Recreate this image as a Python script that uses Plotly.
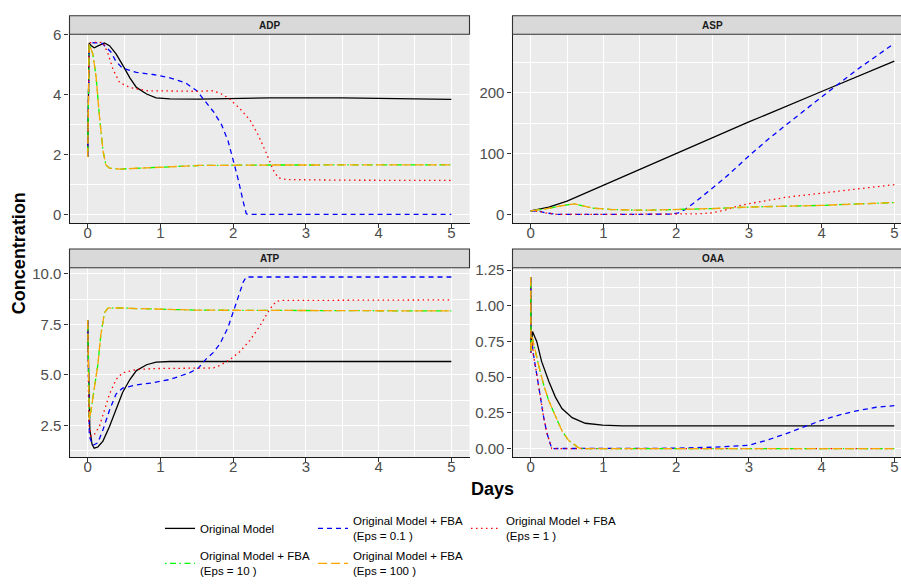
import plotly.graph_objects as go

# ---- series names ----
names = [
    "Original Model",
    "Original Model + FBA<br>(Eps = 0.1 )",
    "Original Model + FBA<br>(Eps = 1 )",
    "Original Model + FBA<br>(Eps = 10 )",
    "Original Model + FBA<br>(Eps = 100 )",
]
colors = ["#000000", "#0000FF", "#FF0000", "#00FF00", "#FFA500"]
dashes = ["solid", "5px,4px", "1.5px,3.5px", "1.5px,3.5px,6px,3.5px", "9px,4px"]
legend_of = ["legend", "legend2", "legend2", "legend3", "legend3"]

# ---- ADP ----
adp_t_orig = [0, 0.02, 0.05, 0.09, 0.15, 0.23, 0.3, 0.39, 0.48, 0.58, 0.67, 0.81, 0.94, 1.13, 1.54, 2.5, 3.5, 4.5, 5]
adp_orig = [1.91, 5.70, 5.62, 5.55, 5.62, 5.71, 5.62, 5.35, 4.98, 4.55, 4.23, 4.01, 3.88, 3.85, 3.84, 3.88, 3.88, 3.86, 3.83]
adp_t_e01 = [0, 0.02, 0.1, 0.2, 0.25, 0.32, 0.39, 0.48, 0.67, 0.9, 1.13, 1.34, 1.5, 1.63, 1.73, 1.84, 1.93, 2.0, 2.07, 2.14, 2.18, 2.2, 5]
adp_e01 = [1.91, 5.70, 5.72, 5.70, 5.57, 5.41, 5.09, 4.87, 4.73, 4.66, 4.55, 4.39, 4.12, 3.74, 3.42, 2.99, 2.45, 1.81, 1.16, 0.41, 0.03, 0.0, 0.0]
adp_t_e1 = [0, 0.02, 0.1, 0.21, 0.28, 0.35, 0.44, 0.58, 0.81, 1.13, 1.52, 1.73, 1.84, 1.95, 2.09, 2.23, 2.34, 2.46, 2.55, 2.62, 2.73, 3.5, 5]
adp_e1 = [1.91, 5.72, 5.73, 5.73, 5.35, 4.82, 4.39, 4.23, 4.12, 4.10, 4.10, 4.12, 4.01, 3.85, 3.53, 3.15, 2.67, 2.02, 1.48, 1.22, 1.16, 1.14, 1.13]
adp_t_e10 = [0, 0.02, 0.07, 0.115, 0.16, 0.21, 0.25, 0.3, 0.44, 0.67, 1.13, 1.54, 2.5, 5]
adp_e10 = [1.91, 5.68, 5.35, 4.60, 3.31, 2.13, 1.65, 1.54, 1.51, 1.54, 1.59, 1.63, 1.645, 1.65]
adp_t_e100 = [0, 0.02, 0.07, 0.115, 0.16, 0.21, 0.25, 0.3, 0.44, 0.67, 1.13, 1.54, 2.5, 5]
adp_e100 = [1.91, 5.68, 5.35, 4.60, 3.31, 2.13, 1.65, 1.54, 1.51, 1.54, 1.59, 1.63, 1.645, 1.65]

# ---- ASP ----
asp_t_orig = [0, 0.25, 0.5, 0.75, 1, 1.5, 2, 3, 4, 5]
asp_orig = [6, 12, 22, 35, 48, 75, 101, 152, 202, 252]
asp_t_e01 = [0, 0.13, 0.2, 0.3, 0.38, 1.0, 1.94, 2.03, 2.12, 2.3, 2.49, 2.67, 3.0, 3.25, 3.5, 3.75, 4.0, 4.25, 4.5, 4.75, 5]
asp_e01 = [6, 5, 2.6, 0.8, 0, 0, 0.5, 2.6, 8, 24, 42, 60, 96, 122, 146, 170, 193, 216, 239, 260, 281]
asp_t_e1 = [0, 0.13, 0.2, 0.3, 0.38, 1.0, 2.2, 2.3, 2.49, 2.67, 2.85, 3.04, 3.5, 4.0, 4.5, 5]
asp_e1 = [6, 5, 2.6, 0.8, 0, 0, 0.2, 1, 2.6, 7, 14, 18.6, 28, 35.5, 42, 49]
asp_t_e10 = [0, 0.2, 0.38, 0.6, 0.84, 1.12, 1.57, 1.98, 2.49, 3.0, 4.0, 5]
asp_e10 = [6, 9, 13.3, 17.5, 10.6, 8, 6.9, 8, 9.6, 12.2, 14.9, 19.6]
asp_t_e100 = [0, 0.2, 0.38, 0.6, 0.84, 1.12, 1.57, 1.98, 2.49, 3.0, 4.0, 5]
asp_e100 = [6, 9, 13.3, 17.5, 10.6, 8, 6.9, 8, 9.6, 12.2, 14.9, 19.6]

# ---- ATP ----
atp_t_orig = [0, 0.014, 0.03, 0.06, 0.09, 0.14, 0.21, 0.3, 0.39, 0.48, 0.58, 0.67, 0.81, 0.94, 1.13, 1.54, 3, 5]
atp_orig = [7.7, 3.9, 2.28, 1.56, 1.37, 1.43, 1.72, 2.44, 3.25, 4.13, 4.77, 5.21, 5.5, 5.63, 5.66, 5.66, 5.63, 5.66]
atp_t_e01 = [0, 0.023, 0.07, 0.14, 0.21, 0.3, 0.39, 0.48, 0.67, 0.9, 1.13, 1.4, 1.52, 1.63, 1.73, 1.82, 1.93, 2.0, 2.07, 2.14, 2.18, 5]
atp_e01 = [7.7, 1.96, 1.51, 1.64, 2.28, 3.25, 4.05, 4.34, 4.5, 4.61, 4.77, 5.1, 5.33, 5.79, 6.11, 6.54, 7.35, 8.07, 8.87, 9.6, 9.84, 9.84]
atp_t_e1 = [0, 0.014, 0.046, 0.09, 0.16, 0.23, 0.3, 0.39, 0.48, 0.67, 0.9, 1.73, 1.82, 1.95, 2.09, 2.23, 2.37, 2.5, 2.59, 2.66, 5]
atp_e1 = [7.7, 2.6, 1.96, 2.04, 2.44, 3.25, 4.05, 4.77, 5.1, 5.26, 5.31, 5.34, 5.47, 5.74, 6.14, 6.7, 7.43, 8.23, 8.63, 8.68, 8.71]
atp_t_e10 = [0, 0.023, 0.046, 0.09, 0.14, 0.18, 0.23, 0.28, 0.44, 0.67, 1.13, 1.52, 5]
atp_e10 = [7.7, 2.77, 3.25, 4.21, 5.5, 6.95, 8.07, 8.3, 8.31, 8.28, 8.23, 8.2, 8.16]
atp_t_e100 = [0, 0.023, 0.046, 0.09, 0.14, 0.18, 0.23, 0.28, 0.44, 0.67, 1.13, 1.52, 5]
atp_e100 = [7.7, 2.77, 3.25, 4.21, 5.5, 6.95, 8.07, 8.3, 8.31, 8.28, 8.23, 8.2, 8.16]

# ---- OAA ----
oaa_t_orig = [0, 0.004, 0.025, 0.083, 0.15, 0.25, 0.34, 0.43, 0.57, 0.75, 0.99, 1.26, 5]
oaa_orig = [1.2, 0.68, 0.82, 0.75, 0.61, 0.47, 0.36, 0.28, 0.216, 0.177, 0.164, 0.159, 0.158]
oaa_t_e01 = [0, 0.004, 0.02, 0.037, 0.083, 0.13, 0.176, 0.22, 0.27, 0.29, 2.0, 2.5, 3.0, 3.24, 3.5, 3.75, 4.0, 4.25, 4.5, 4.75, 5]
oaa_e01 = [1.2, 0.67, 0.75, 0.66, 0.52, 0.36, 0.227, 0.114, 0.023, 0, 0.002, 0.009, 0.023, 0.057, 0.102, 0.152, 0.198, 0.236, 0.266, 0.289, 0.3]
oaa_t_e1 = [0, 0.004, 0.02, 0.037, 0.083, 0.13, 0.176, 0.22, 0.27, 0.29, 5]
oaa_e1 = [1.2, 0.67, 0.75, 0.66, 0.52, 0.36, 0.227, 0.114, 0.023, 0, 0]
oaa_t_e10 = [0, 0.004, 0.02, 0.06, 0.106, 0.176, 0.245, 0.34, 0.43, 0.52, 0.62, 0.66, 0.7, 5]
oaa_e10 = [1.2, 0.67, 0.78, 0.68, 0.59, 0.45, 0.34, 0.227, 0.125, 0.057, 0.016, 0.005, 0, 0]
oaa_t_e100 = [0, 0.004, 0.02, 0.06, 0.106, 0.176, 0.245, 0.34, 0.43, 0.52, 0.62, 0.66, 0.7, 5]
oaa_e100 = [1.2, 0.67, 0.78, 0.68, 0.59, 0.45, 0.34, 0.227, 0.125, 0.057, 0.016, 0.005, 0, 0]

panels = [
    ("ADP", "x", "y", [(adp_t_orig, adp_orig), (adp_t_e01, adp_e01), (adp_t_e1, adp_e1), (adp_t_e10, adp_e10), (adp_t_e100, adp_e100)]),
    ("ASP", "x2", "y2", [(asp_t_orig, asp_orig), (asp_t_e01, asp_e01), (asp_t_e1, asp_e1), (asp_t_e10, asp_e10), (asp_t_e100, asp_e100)]),
    ("ATP", "x3", "y3", [(atp_t_orig, atp_orig), (atp_t_e01, atp_e01), (atp_t_e1, atp_e1), (atp_t_e10, atp_e10), (atp_t_e100, atp_e100)]),
    ("OAA", "x4", "y4", [(oaa_t_orig, oaa_orig), (oaa_t_e01, oaa_e01), (oaa_t_e1, oaa_e1), (oaa_t_e10, oaa_e10), (oaa_t_e100, oaa_e100)]),
]

W, H = 901, 585
FONT = "Liberation Sans, Arial, sans-serif"
fig = go.Figure()

for p, (label, xa, ya, series) in enumerate(panels):
    for i, (t, v) in enumerate(series):
        fig.add_trace(go.Scatter(
            x=t, y=v, mode="lines", name=names[i],
            xaxis=xa, yaxis=ya,
            line=dict(color=colors[i], width=1.3, dash=dashes[i]),
            showlegend=(p == 0),
            legend=legend_of[i],
            hoverinfo="skip",
        ))

# panel geometry in pixels
left_x = (69.5 / W, 469.5 / W)
right_x = (512.5 / W, 1.0)
top_y = (1 - 220 / H, 1 - 26 / H)
bot_y = (1 - 460.7 / H, 1 - 266 / H)

tickfont = dict(family=FONT, size=15, color="#4D4D4D")
common = dict(
    showline=True, linecolor="#1A1A1A", linewidth=1.1,
    ticks="outside", ticklen=4, tickcolor="#333333", tickwidth=1,
    showgrid=True, gridcolor="#FFFFFF", gridwidth=1.2,
    zeroline=False, tickfont=tickfont,
)

def xaxis(domain, anchor, rng):
    return dict(domain=domain, anchor=anchor, range=rng, tickmode="linear", tick0=0, dtick=1,
                ticklabelstandoff=-8,
                minor=dict(dtick=0.5, tick0=0, showgrid=True, gridcolor="#FFFFFF", gridwidth=0.6, ticks=""),
                **common)

def yaxis(domain, anchor, rng, dtick, fmt):
    return dict(domain=domain, anchor=anchor, range=rng, tickmode="linear", tick0=0, dtick=dtick,
                tickformat=fmt,
                minor=dict(dtick=dtick / 2, tick0=0, showgrid=True, gridcolor="#FFFFFF", gridwidth=0.6, ticks=""),
                **common)

fig.update_layout(
    xaxis=xaxis(left_x, "y", [-0.25, 5.25]),
    yaxis=yaxis(top_y, "x", [-0.286, 6.0], 2, "d"),
    xaxis2=xaxis(right_x, "y2", [-0.25, 5.092]),
    yaxis2=yaxis(top_y, "x2", [-14, 296], 100, "d"),
    xaxis3=xaxis(left_x, "y3", [-0.25, 5.25]),
    yaxis3=yaxis(bot_y, "x3", [0.93, 10.3], 2.5, ".1f"),
    xaxis4=xaxis(right_x, "y4", [-0.25, 5.092]),
    yaxis4=yaxis(bot_y, "x4", [-0.06, 1.266], 0.25, ".2f"),
)

# facet strips
strips = [
    ("ADP", left_x, (1 - 26 / H, 1 - 7 / H)),
    ("ASP", (512.5 / W, 1.03), (1 - 26 / H, 1 - 7 / H)),
    ("ATP", left_x, (1 - 266 / H, 1 - 246.7 / H)),
    ("OAA", (512.5 / W, 1.03), (1 - 266 / H, 1 - 246.7 / H)),
]
strip_centres = [269.5 / W, 712.5 / W, 269.5 / W, 712.5 / W]
shapes, annotations = [], []
for (lab, xs, ys), xc in zip(strips, strip_centres):
    shapes.append(dict(type="rect", xref="paper", yref="paper", x0=xs[0], x1=xs[1], y0=ys[0], y1=ys[1],
                       fillcolor="#D9D9D9", line=dict(color="#333333", width=1.1), layer="above"))
    annotations.append(dict(text="<b>%s</b>" % lab, xref="paper", yref="paper", x=xc, y=(ys[0] + ys[1]) / 2,
                            showarrow=False, xanchor="center", yanchor="middle",
                            font=dict(family=FONT, size=10, color="#1A1A1A")))

annotations.append(dict(text="<b>Concentration</b>", xref="paper", yref="paper", x=19 / W, y=1 - 251 / H,
                        textangle=-90, showarrow=False, xanchor="center", yanchor="middle",
                        font=dict(family=FONT, size=18, color="#000000")))
annotations.append(dict(text="<b>Days</b>", xref="paper", yref="paper", x=492 / W, y=1 - 494 / H,
                        showarrow=False, xanchor="center", yanchor="middle",
                        font=dict(family=FONT, size=18, color="#000000")))

legend_font = dict(family=FONT, size=11.5, color="#000000")
legend_common = dict(orientation="h", xanchor="left", yanchor="middle", bgcolor="rgba(0,0,0,0)",
                     font=legend_font, entrywidth=108, entrywidthmode="pixels", itemwidth=30,
                     traceorder="normal", valign="middle")

fig.update_layout(
    width=W, height=H,
    margin=dict(l=0, r=0, t=0, b=0),
    paper_bgcolor="#FFFFFF", plot_bgcolor="#EBEBEB",
    shapes=shapes, annotations=annotations,
    legend=dict(x=160 / W, y=1 - 534 / H, **legend_common),
    legend2=dict(x=313 / W, y=1 - 534 / H, **legend_common),
    legend3=dict(x=160 / W, y=1 - 570 / H, **legend_common),
    hovermode=False,
)

fig.write_html("out.html")
